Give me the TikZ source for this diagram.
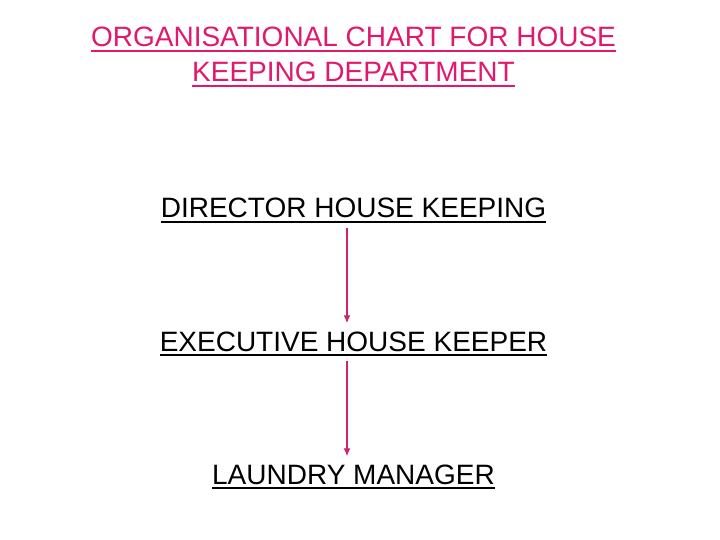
\documentclass[tikz,border=0pt]{standalone}
\usepackage{fontspec}
\setmainfont{Liberation Sans}
\usetikzlibrary{arrows.meta}
\definecolor{titlepink}{RGB}{226,24,110}
\definecolor{arrowpink}{RGB}{205,36,110}
\tikzset{
  txt/.style={anchor=base, inner sep=0pt, font=\fontsize{28}{30}\selectfont},
  ttl/.style={txt, text=titlepink},
  lbl/.style={txt, text=black},
  ulpink/.style={draw=titlepink, line width=2.2pt},
  ulblack/.style={draw=black, line width=2.2pt},
  arr/.style={draw=arrowpink, line width=1.3pt, -{Latex[length=8pt,width=7pt]}}
}
\begin{document}
\begin{tikzpicture}
\useasboundingbox (0pt,0pt) rectangle (720pt,-540pt);
\node[ttl] (t1) at (353.5pt,-47pt) {ORGANISATIONAL CHART FOR HOUSE};
\node[ttl] (t2) at (353.5pt,-82pt) {KEEPING DEPARTMENT};
\draw[ulpink] ([yshift=-4pt]t1.base west) -- ([yshift=-4pt]t1.base east);
\draw[ulpink] ([yshift=-4pt]t2.base west) -- ([yshift=-4pt]t2.base east);

\node[lbl] (d) at (353.5pt,-218pt) {DIRECTOR HOUSE KEEPING};
\node[lbl] (e) at (353.5pt,-351pt) {EXECUTIVE HOUSE KEEPER};
\node[lbl] (l) at (353.5pt,-484pt) {LAUNDRY MANAGER};
\draw[ulblack] ([yshift=-4pt]d.base west) -- ([yshift=-4pt]d.base east);
\draw[ulblack] ([yshift=-4pt]e.base west) -- ([yshift=-4pt]e.base east);
\draw[ulblack] ([yshift=-4pt]l.base west) -- ([yshift=-4pt]l.base east);

\draw[arr] ([xshift=-6.5pt,yshift=-10pt]d.base) -- ([xshift=-6.5pt,yshift=8pt]e.north);
\draw[arr] ([xshift=-6.5pt,yshift=-10pt]e.base) -- ([xshift=-6.5pt,yshift=8pt]l.north);
\end{tikzpicture}
\end{document}
